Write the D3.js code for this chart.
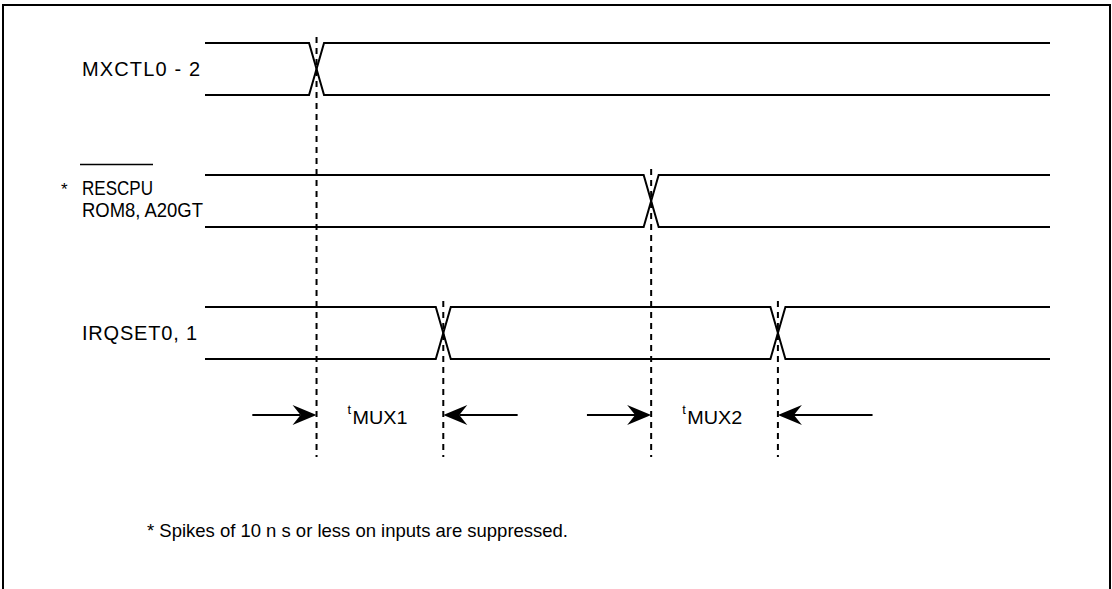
<!DOCTYPE html>
<html>
<head>
<meta charset="utf-8">
<script src="https://cdn.jsdelivr.net/npm/d3@7"></script>
<style>
  body { margin: 0; background: #fff; }
  svg { display: block; font-family: "Liberation Sans", Arial, Helvetica, sans-serif; }
</style>
</head>
<body>
<svg></svg>
<script>
// Signal rows
let signals = ["MXCTL0 - 2", "RESCPU", "IRQSET0, 1"];
let secondLines = ["", "ROM8, A20GT", ""];
let starred = [false, true, false];
let overbarred = [false, true, false];

// Transition times for each signal (time units)
let transitions = [[13.2], [52.8], [28.2, 67.8]];

// Timing intervals
let intervalNames = ["MUX1", "MUX2"];
let intervalStart = [13.2, 52.8];
let intervalEnd = [28.2, 67.8];
let tailLeft = [5.6, 45.2];
let tailRight = [37.0, 79.0];

let footnote = "* Spikes of 10 n s or less on inputs are suppressed.";

// Layout
let width = 1112;
let height = 589;
let swing = 52;
let halfEdge = 7.5;
let arrowY = 415;
let dashBottom = 457;

let svg = d3.select("svg").attr("width", width).attr("height", height);

let xScale = d3.scaleLinear().domain([0, 100]).range([205, 1050]);
let yScale = d3.scalePoint().domain(signals).range([43, 307]);

// frame (open at the bottom edge of the page)
svg.append("rect")
  .attr("x", 3).attr("y", 5)
  .attr("width", 1107).attr("height", 700)
  .attr("fill", "none").attr("stroke", "#000").attr("stroke-width", 2);

// Build a trace that flips level at each transition
let tracePath = (hi, lo, times, startHigh) => {
  let p = d3.path();
  let level = startHigh;
  p.moveTo(xScale(0), level ? hi : lo);
  times.forEach((t) => {
    p.lineTo(xScale(t) - halfEdge, level ? hi : lo);
    level = !level;
    p.lineTo(xScale(t) + halfEdge, level ? hi : lo);
  });
  p.lineTo(xScale(100), level ? hi : lo);
  return p.toString();
};

let drawSignals = () => {
  signals.forEach((name, i) => {
    let hi = yScale(name);
    let lo = hi + swing;
    [true, false].forEach((startHigh) => {
      svg.append("path")
        .attr("d", tracePath(hi, lo, transitions[i], startHigh))
        .attr("fill", "none")
        .attr("stroke", "#000")
        .attr("stroke-width", 2);
    });

    // dashed reference lines
    transitions[i].forEach((t) => {
      svg.append("line")
        .attr("x1", xScale(t)).attr("x2", xScale(t))
        .attr("y1", hi - 6).attr("y2", dashBottom)
        .attr("stroke", "#000")
        .attr("stroke-width", 2)
        .attr("stroke-dasharray", "6,5");
    });

    // labels
    let mid = hi + swing / 2;
    if (secondLines[i]) {
      let b1 = mid - 6.5;
      svg.append("text")
        .attr("x", 82).attr("y", b1)
        .attr("font-size", 20)
        .attr("textLength", 71).attr("lengthAdjust", "spacingAndGlyphs")
        .text(name);
      if (overbarred[i]) {
        svg.append("line")
          .attr("x1", 80).attr("x2", 153)
          .attr("y1", b1 - 30).attr("y2", b1 - 30)
          .attr("stroke", "#000").attr("stroke-width", 1.5);
      }
      if (starred[i]) {
        svg.append("text").attr("x", 61).attr("y", b1).attr("font-size", 17).text("*");
      }
      svg.append("text")
        .attr("x", 82).attr("y", b1 + 22)
        .attr("font-size", 20)
        .attr("textLength", 121).attr("lengthAdjust", "spacingAndGlyphs")
        .text(secondLines[i]);
    } else {
      svg.append("text")
        .attr("x", 82).attr("y", mid + 7)
        .attr("font-size", 20)
        .attr("textLength", i === 0 ? 118 : 115).attr("lengthAdjust", "spacing")
        .text(name);
    }
  });
};

let arrowHead = (tx, ty, dir) =>
  "M" + tx + "," + ty +
  "L" + (tx - dir * 24) + "," + (ty - 10) +
  "L" + (tx - dir * 16) + "," + ty +
  "L" + (tx - dir * 24) + "," + (ty + 10) + "Z";

let drawIntervals = () => {
  intervalNames.forEach((name, i) => {
    let a = xScale(intervalStart[i]);
    let b = xScale(intervalEnd[i]);

    svg.append("line")
      .attr("x1", xScale(tailLeft[i])).attr("x2", a - 16)
      .attr("y1", arrowY).attr("y2", arrowY)
      .attr("stroke", "#000").attr("stroke-width", 2);
    svg.append("path").attr("d", arrowHead(a, arrowY, 1)).attr("fill", "#000");

    svg.append("line")
      .attr("x1", xScale(tailRight[i])).attr("x2", b + 16)
      .attr("y1", arrowY).attr("y2", arrowY)
      .attr("stroke", "#000").attr("stroke-width", 2);
    svg.append("path").attr("d", arrowHead(b, arrowY, -1)).attr("fill", "#000");

    svg.append("text")
      .attr("x", a + 31).attr("y", arrowY - 1)
      .attr("font-size", 13)
      .text("t");
    svg.append("text")
      .attr("x", a + 36).attr("y", arrowY + 9)
      .attr("font-size", 19)
      .attr("textLength", 55).attr("lengthAdjust", "spacingAndGlyphs")
      .text(name);
  });
};

let drawFootnote = () => {
  svg.append("text")
    .attr("x", 147).attr("y", 537)
    .attr("font-size", 18.5)
    .attr("textLength", 421).attr("lengthAdjust", "spacing")
    .text(footnote);
};

drawSignals();
drawIntervals();
drawFootnote();
</script>
</body>
</html>
